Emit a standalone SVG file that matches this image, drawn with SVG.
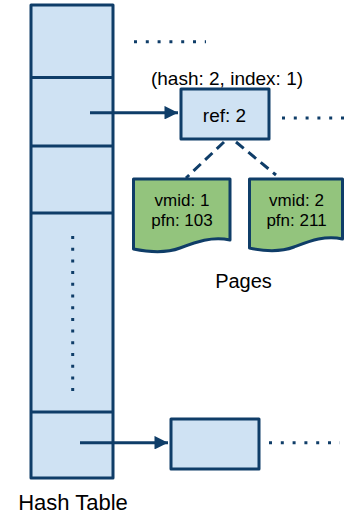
<svg xmlns="http://www.w3.org/2000/svg" width="352" height="517" viewBox="0 0 352 517">
<defs>
<style>
.cell{fill:#cfe2f3;stroke:#0f3d68;stroke-width:3;stroke-linejoin:round}
.page{fill:#93c47d;stroke:#0f3d68;stroke-width:3;stroke-linejoin:round}
.div{stroke:#0f3d68;stroke-width:3}
.arrow{stroke:#0f3d68;stroke-width:3;fill:none}
.dots{stroke:#0f3d68;stroke-width:3;stroke-dasharray:3 8.8;fill:none}
.dash{stroke:#0f3d68;stroke-width:3;stroke-dasharray:10 6;fill:none}
text{font-family:"Liberation Sans",Arial,sans-serif;fill:#000;text-anchor:middle}
.t17{font-size:17px}
.t19{font-size:19px}
</style>
<marker id="ah" viewBox="0 0 10 10" refX="10" refY="5" markerWidth="6.5" markerHeight="4.5" markerUnits="strokeWidth" orient="auto">
<path d="M0,0 L10,5 L0,10 Z" fill="#0f3d68"/>
</marker>
</defs>
<g id="hash-table">
<rect class="cell" x="31" y="5" width="82" height="473"/>
<line class="div" x1="31" y1="77.5" x2="113" y2="77.5"/>
<line class="div" x1="31" y1="146" x2="113" y2="146"/>
<line class="div" x1="31" y1="213" x2="113" y2="213"/>
<line class="div" x1="31" y1="412" x2="113" y2="412"/>
<line class="dots" x1="72.7" y1="236" x2="72.7" y2="392" style="stroke-dasharray:3 8.7"/>
<text x="73" y="510" style="font-size:22px">Hash Table</text>
</g>
<g id="ref-node">
<rect class="cell" x="181" y="89" width="88" height="50"/>
<text class="t19" x="224.5" y="122">ref: 2</text>
<text class="t19" x="227" y="85">(hash: 2, index: 1)</text>
</g>
<g id="page1">
<path class="page" d="M133.5,179 H230 V240 C212,236 196,242 180,248 C164,254 148,252 133.5,249 Z"/>
<text class="t17" x="182" y="206">vmid: 1</text>
<text class="t17" x="182" y="226">pfn: 103</text>
</g>
<g id="page2">
<path class="page" d="M249.5,179 H342.5 V239 C325,235 310,241 294,247 C278,253 263,251 249.5,248 Z"/>
<text class="t17" x="296.5" y="206">vmid: 2</text>
<text class="t17" x="296.5" y="226">pfn: 211</text>
</g>
<g id="bottom-node">
<rect class="cell" x="171" y="419" width="88" height="50"/>
</g>
<text x="243.5" y="288" style="font-size:20px">Pages</text>
<g id="connectors">
<line class="arrow" x1="90" y1="112.7" x2="178" y2="112.7" marker-end="url(#ah)"/>
<line class="arrow" x1="80" y1="442.7" x2="168" y2="442.7" marker-end="url(#ah)"/>
<line class="dash" x1="224" y1="142" x2="186" y2="178"/>
<line class="dash" x1="236" y1="142" x2="276" y2="175"/>
<line class="dots" x1="134" y1="41.7" x2="206" y2="41.7"/>
<line class="dots" x1="282" y1="118" x2="352" y2="118"/>
<line class="dots" x1="269" y1="442.7" x2="340" y2="442.7"/>
</g>
</svg>
